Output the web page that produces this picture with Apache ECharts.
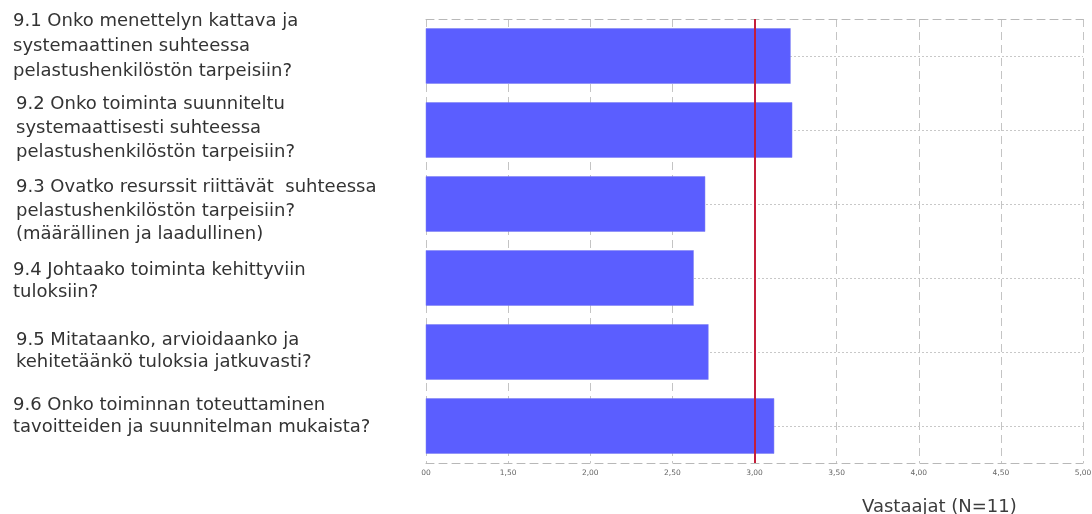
<!DOCTYPE html>
<html>
<head>
<meta charset="utf-8">
<script src="https://cdn.jsdelivr.net/npm/echarts@6/dist/echarts.min.js"></script>
<style>
html,body{margin:0;padding:0;background:#fff;}
#chart{width:1092px;height:514px;}
</style>
</head>
<body>
<div id="chart"></div>
<script>
const categories = [
  '9.1 Onko menettelyn kattava ja\nsystemaattinen suhteessa\npelastushenkilöstön tarpeisiin?',
  '9.2 Onko toiminta suunniteltu\nsystemaattisesti suhteessa\npelastushenkilöstön tarpeisiin?',
  '9.3 Ovatko resurssit riittävät  suhteessa\npelastushenkilöstön tarpeisiin?\n(määrällinen ja laadullinen)',
  '9.4 Johtaako toiminta kehittyviin\ntuloksiin?',
  '9.5 Mitataanko, arvioidaanko ja\nkehitetäänkö tuloksia jatkuvasti?',
  '9.6 Onko toiminnan toteuttaminen\ntavoitteiden ja suunnitelman mukaista?'
];
const values = [3.22, 3.23, 2.70, 2.63, 2.72, 3.12];
const xTickLabels = ['00', '1,50', '2,00', '2,50', '3,00', '3,50', '4,00', '4,50', '5,00'];
const referenceValue = 3.0;
const axisName = 'Vastaajat (N=11)';

// label layout tweaks (not data): vertical nudge (+ = down), left indent, line height
const labelShift = [-10, -2, 7, 3, -1, -10];
const labelIndent = [0, 3, 3, 0, 3, 0];
const labelLineH = [25, 24, 23.5, 22, 22, 22];

const chart = echarts.init(document.getElementById('chart'), null, {renderer: 'canvas'});
const fontFam = '"DejaVu Sans", "Noto Sans", sans-serif';
const FS = 18;

const rich = {};
categories.forEach(function (c, i) {
  rich['t' + i] = {
    fontFamily: fontFam, fontSize: FS, color: '#333',
    lineHeight: labelLineH[i], padding: [0, 0, 0, labelIndent[i]]
  };
  rich['s' + i] = {
    fontFamily: fontFam, fontSize: 1, lineHeight: Math.max(1, 2 * Math.abs(labelShift[i]))
  };
});

function labelFormatter(value, index) {
  const lines = value.split('\n').map(function (l) { return '{t' + index + '|' + l + '}'; });
  const s = labelShift[index];
  if (s > 0) lines.unshift('{s' + index + '| }');
  else if (s < 0) lines.push('{s' + index + '| }');
  return lines.join('\n');
}

const option = {
  animation: false,
  backgroundColor: '#ffffff',
  title: {
    text: axisName,
    left: 857,
    top: 493,
    textStyle: {fontFamily: fontFam, fontSize: 18, fontWeight: 'normal', color: '#3c3c3c'}
  },
  grid: {left: 426, right: 9, top: 19, bottom: 51, containLabel: false, outerBoundsMode: 'none'},
  xAxis: [{
    type: 'value',
    min: 1, max: 5, interval: 0.5,
    position: 'bottom',
    axisLine: {show: true, lineStyle: {color: '#b8b8b8', type: [8, 5], width: 1}},
    axisTick: {show: false},
    axisLabel: {
      show: true, margin: 6, fontSize: 7.5, color: '#666', fontFamily: fontFam,
      formatter: function (v) { return xTickLabels[Math.round((v - 1) / 0.5)]; }
    },
    splitLine: {show: true, lineStyle: {color: '#c4c4c4', type: [8, 5], width: 1}}
  }, {
    type: 'value',
    min: 1, max: 5, interval: 0.5,
    position: 'top',
    axisLine: {show: true, lineStyle: {color: '#b8b8b8', type: [8, 5], width: 1}},
    axisTick: {show: false},
    axisLabel: {show: false},
    splitLine: {show: false}
  }],
  yAxis: {
    type: 'category',
    data: categories,
    inverse: true,
    axisLine: {show: false},
    axisTick: {show: false},
    splitLine: {show: false},
    axisLabel: {
      show: true,
      interval: 0,
      hideOverlap: false,
      margin: 413,
      align: 'left',
      verticalAlign: 'middle',
      fontFamily: fontFam,
      fontSize: FS,
      color: '#333',
      formatter: labelFormatter,
      rich: rich
    }
  },
  series: [{
    type: 'line',
    data: [],
    silent: true,
    markLine: {
      z: 1,
      silent: true,
      symbol: 'none',
      label: {show: false},
      lineStyle: {type: [2, 2], color: '#c8c8c8', width: 1},
      data: categories.map(function (c) { return {yAxis: c}; })
    }
  }, {
    type: 'bar',
    data: values,
    barWidth: '75%',
    z: 3,
    itemStyle: {color: '#5b5eff', borderColor: '#7a7cf0', borderWidth: 0.5},
    markLine: {
      z: 6,
      silent: true,
      symbol: 'none',
      label: {show: false},
      lineStyle: {type: 'solid', color: '#c41e3a', width: 2},
      data: [{xAxis: referenceValue}]
    }
  }]
};
chart.setOption(option);
</script>
</body>
</html>
